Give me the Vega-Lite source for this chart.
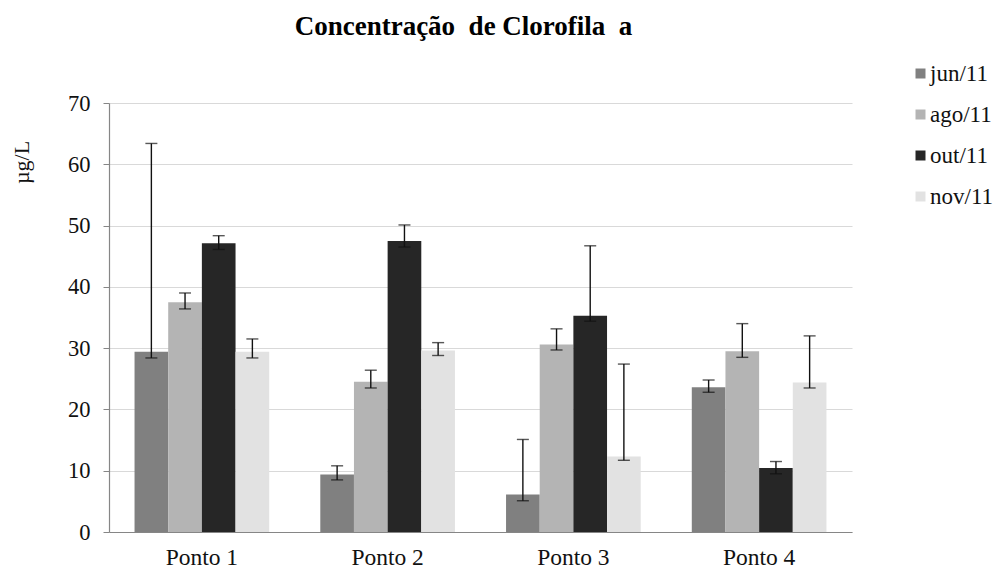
{
  "$schema": "https://vega.github.io/schema/vega-lite/v6.json",
  "autosize": {"type": "none"},
  "padding": {"left": 109, "top": 103, "right": 145, "bottom": 40},
  "width": 743,
  "height": 429,
  "background": "white",
  "title": {
    "text": "Concentração\u00a0 de Clorofila\u00a0 a",
    "font": "Liberation Serif",
    "fontSize": 27,
    "fontWeight": "bold",
    "color": "black",
    "anchor": "middle",
    "dx": -17,
    "offset": 21
  },
  "data": {
    "values": [
      {"ponto": "Ponto 1", "serie": "jun/11", "valor": 29.4, "low": 28.4, "high": 63.4},
      {"ponto": "Ponto 1", "serie": "ago/11", "valor": 37.5, "low": 36.4, "high": 39.0},
      {"ponto": "Ponto 1", "serie": "out/11", "valor": 47.1, "low": 46.1, "high": 48.35},
      {"ponto": "Ponto 1", "serie": "nov/11", "valor": 29.4, "low": 28.4, "high": 31.5},
      {"ponto": "Ponto 2", "serie": "jun/11", "valor": 9.4, "low": 8.5, "high": 10.8},
      {"ponto": "Ponto 2", "serie": "ago/11", "valor": 24.5, "low": 23.5, "high": 26.4},
      {"ponto": "Ponto 2", "serie": "out/11", "valor": 47.5, "low": 46.5, "high": 50.1},
      {"ponto": "Ponto 2", "serie": "nov/11", "valor": 29.6, "low": 28.8, "high": 30.9},
      {"ponto": "Ponto 3", "serie": "jun/11", "valor": 6.1, "low": 5.1, "high": 15.1},
      {"ponto": "Ponto 3", "serie": "ago/11", "valor": 30.6, "low": 29.7, "high": 33.15},
      {"ponto": "Ponto 3", "serie": "out/11", "valor": 35.3, "low": 34.4, "high": 46.7},
      {"ponto": "Ponto 3", "serie": "nov/11", "valor": 12.3, "low": 11.7, "high": 27.4},
      {"ponto": "Ponto 4", "serie": "jun/11", "valor": 23.6, "low": 22.8, "high": 24.8},
      {"ponto": "Ponto 4", "serie": "ago/11", "valor": 29.5, "low": 28.5, "high": 34.0},
      {"ponto": "Ponto 4", "serie": "out/11", "valor": 10.45, "low": 9.5, "high": 11.5},
      {"ponto": "Ponto 4", "serie": "nov/11", "valor": 24.4, "low": 23.5, "high": 32.0}
    ]
  },
  "encoding": {
    "x": {
      "field": "ponto",
      "type": "nominal",
      "scale": {"paddingInner": 0.275, "paddingOuter": 0.1375},
      "axis": {
        "title": null,
        "labelAngle": 0,
        "labelFont": "Liberation Serif",
        "labelFontSize": 23.5,
        "labelColor": "#111111",
        "labelPadding": 13,
        "ticks": false,
        "domainColor": "#868686",
        "domainWidth": 1.2,
        "grid": false
      }
    },
    "xOffset": {
      "field": "serie",
      "type": "nominal",
      "sort": ["jun/11", "ago/11", "out/11", "nov/11"],
      "scale": {"paddingInner": 0, "paddingOuter": 0}
    }
  },
  "layer": [
    {
      "mark": {"type": "bar"},
      "encoding": {
        "y": {
          "field": "valor",
          "type": "quantitative",
          "scale": {"domain": [0, 70], "nice": false},
          "axis": {
            "values": [0, 10, 20, 30, 40, 50, 60, 70],
            "title": "µg/L",
            "titleFont": "Liberation Serif",
            "titleFontSize": 22,
            "titleFontWeight": "normal",
            "titleColor": "#111111",
            "titleAngle": -90,
            "titleAlign": "center",
            "titleBaseline": "middle",
            "titleX": -88,
            "titleY": 59,
            "labelFont": "Liberation Serif",
            "labelFontSize": 22.5,
            "labelColor": "#111111",
            "labelPadding": 13,
            "tickSize": 6,
            "tickColor": "#868686",
            "domainColor": "#868686",
            "domainWidth": 1.2,
            "gridColor": "#d9d9d9",
            "gridWidth": 1.2
          }
        },
        "color": {
          "field": "serie",
          "type": "nominal",
          "sort": ["jun/11", "ago/11", "out/11", "nov/11"],
          "scale": {
            "domain": ["jun/11", "ago/11", "out/11", "nov/11"],
            "range": ["#808080", "#b4b4b4", "#262626", "#e2e2e2"]
          },
          "legend": {
            "title": null,
            "orient": "none",
            "legendX": 800,
            "legendY": -41,
            "padding": 0,
            "symbolType": "square",
            "symbolSize": 100,
            "symbolStrokeWidth": 0,
            "labelFont": "Liberation Serif",
            "labelFontSize": 23,
            "labelColor": "#111111",
            "labelOffset": -2,
            "rowPadding": 17
          }
        }
      }
    },
    {
      "mark": {"type": "rule", "color": "#111111", "strokeWidth": 1.4},
      "encoding": {
        "y": {"field": "low", "type": "quantitative"},
        "y2": {"field": "high"}
      }
    },
    {
      "mark": {"type": "tick", "color": "#111111", "thickness": 1.4, "size": 12},
      "encoding": {
        "y": {"field": "low", "type": "quantitative"}
      }
    },
    {
      "mark": {"type": "tick", "color": "#111111", "thickness": 1.4, "size": 12},
      "encoding": {
        "y": {"field": "high", "type": "quantitative"}
      }
    }
  ],
  "config": {
    "view": {"stroke": null},
    "axisX": {"grid": false}
  }
}
